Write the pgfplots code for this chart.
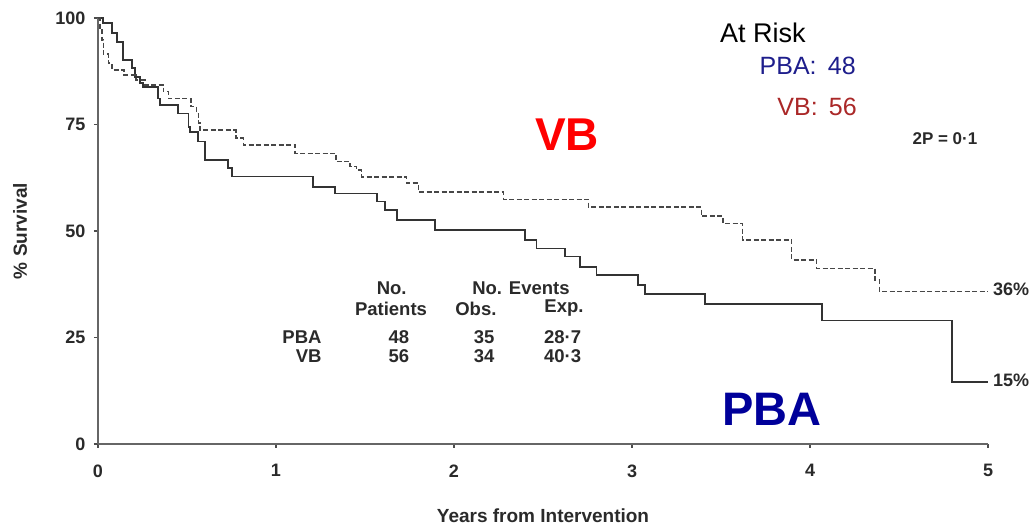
\documentclass[border=0pt]{standalone}
\usepackage{pgfplots}
\pgfplotsset{compat=1.18}
\usepackage{fontspec}
\setmainfont{Liberation Sans}
\definecolor{ink}{HTML}{2A2A2A}
\definecolor{navy}{HTML}{1E1E8C}
\definecolor{bigblue}{HTML}{00009A}
\definecolor{darkred}{HTML}{AA2828}
\newcommand\fs[1]{\fontsize{#1}{#1}\selectfont}
\begin{document}
\begin{tikzpicture}
\begin{axis}[name=ax, at={(0,0)}, anchor=south west,
  scale only axis, width=890pt, height=426pt,
  xmin=0, xmax=5, ymin=0, ymax=100,
  axis x line=bottom, axis y line=left,
  axis line style={-, line width=1.6pt, color=black!60},
  xtick={0,1,2,3,4,5}, ytick={0,25,50,75,100},
  tick style={line width=1.2pt, color=black!70},
  major tick length=4pt, tick align=outside,
  ticklabel style={font=\fs{18}\bfseries, text=ink},
  /pgf/number format/assume math mode=true,
  xticklabel shift=13pt, yticklabel shift=5pt,
  xlabel={Years from Intervention}, ylabel={\% Survival},
  label style={font=\fs{19}\bfseries, text=ink},
  xlabel style={at={(axis description cs:0.5,0)}, anchor=center, yshift=-72pt},
  ylabel style={at={(axis description cs:-0.0876,0.5)}, anchor=center},
  clip=false]
% PBA (solid)
\addplot[const plot, line width=1.8pt, color=black!80] coordinates {
(0,100) (0.026,98.8) (0.077,96.4) (0.105,94.4) (0.142,90.1) (0.189,88.2)
(0.208,86.2) (0.236,84.7) (0.255,83.8) (0.339,81.1) (0.348,79.6) (0.451,77.6)
(0.508,74.5) (0.517,73.3) (0.564,71.0) (0.601,66.7) (0.732,64.7) (0.751,62.8)
(1.21,60.4) (1.33,58.8) (1.566,56.9) (1.612,54.9) (1.678,52.6) (1.893,50.2)
(2.399,47.9) (2.464,45.9) (2.624,44.0) (2.708,41.6) (2.801,39.7) (3.035,37.3)
(3.073,35.2) (3.410,32.8) (4.066,29.0) (4.796,14.5) (5.0,14.5)};
% VB (dashed)
\addplot[const plot, line width=1.6pt, color=black!72, dash pattern=on 5pt off 2.5pt] coordinates {
(0,100) (0.011,97.2) (0.021,94.8) (0.030,91.5) (0.058,89.4) (0.077,87.8)
(0.147,86.6) (0.212,85.4) (0.264,84.3) (0.367,82.7) (0.395,81.1) (0.521,79.2)
(0.554,77.6) (0.564,75.3) (0.573,73.7) (0.775,71.8) (0.817,70.2) (1.107,68.2)
(1.336,66.3) (1.416,65.1) (1.453,64.3) (1.481,62.7) (1.734,61.2) (1.80,59.2)
(2.277,57.4) (2.755,55.6) (3.39,53.5) (3.51,51.8) (3.62,47.9) (3.897,43.2)
(4.037,41.2) (4.365,38.5) (4.39,35.8) (5.0,35.8)};
% end labels
\node[anchor=west, inner sep=0pt, font=\fs{18}\bfseries, text=ink] at (axis cs:5.028,36.2) {36\%};
\node[anchor=west, inner sep=0pt, font=\fs{18}\bfseries, text=ink] at (axis cs:5.028,15.0) {15\%};
% big labels
\node[font=\fs{46}\bfseries, text=red, inner sep=0pt] at (axis cs:2.635,72.5) {VB};
\node[font=\fs{47}\bfseries, text=bigblue, inner sep=0pt] at (axis cs:3.787,8.2) {PBA};
% at risk
\node[anchor=west, inner sep=0pt, font=\fs{27}, text=black] at (axis cs:3.494,96.5) {At Risk};
\node[anchor=east, inner sep=0pt, font=\fs{25}, text=navy] at (axis cs:4.258,88.7) {PBA:\hspace{0.45em}48};
\node[anchor=east, inner sep=0pt, font=\fs{25}, text=darkred] at (axis cs:4.264,79.1) {VB:\hspace{0.45em}56};
\node[inner sep=0pt, font=\fs{17}\bfseries, text=ink] at (axis cs:4.758,71.6) {2P = 0·1};
% table
\begin{scope}[every node/.style={inner sep=0pt, font=\fs{18.5}\bfseries, text=ink}]
\node at (axis cs:1.650,36.5) {No.};
\node at (axis cs:1.646,31.8) {Patients};
\node at (axis cs:2.376,36.5) {No. Events};
\node at (axis cs:2.123,31.8) {Obs.};
\node at (axis cs:2.618,31.8) {Exp.};
\node[anchor=east] at (axis cs:1.257,25.1) {PBA};
\node[anchor=east] at (axis cs:1.257,20.7) {VB};
\node at (axis cs:1.691,25.1) {48};
\node at (axis cs:1.691,20.7) {56};
\node at (axis cs:2.169,25.1) {35};
\node at (axis cs:2.169,20.7) {34};
\node at (axis cs:2.610,25.1) {28·7};
\node at (axis cs:2.610,20.7) {40·3};
\end{scope}
\end{axis}
\pgfresetboundingbox
\path[use as bounding box] ([shift={(-98pt,-82pt)}]ax.south west) rectangle ([shift={(48pt,18pt)}]ax.north east);
\end{tikzpicture}
\end{document}
